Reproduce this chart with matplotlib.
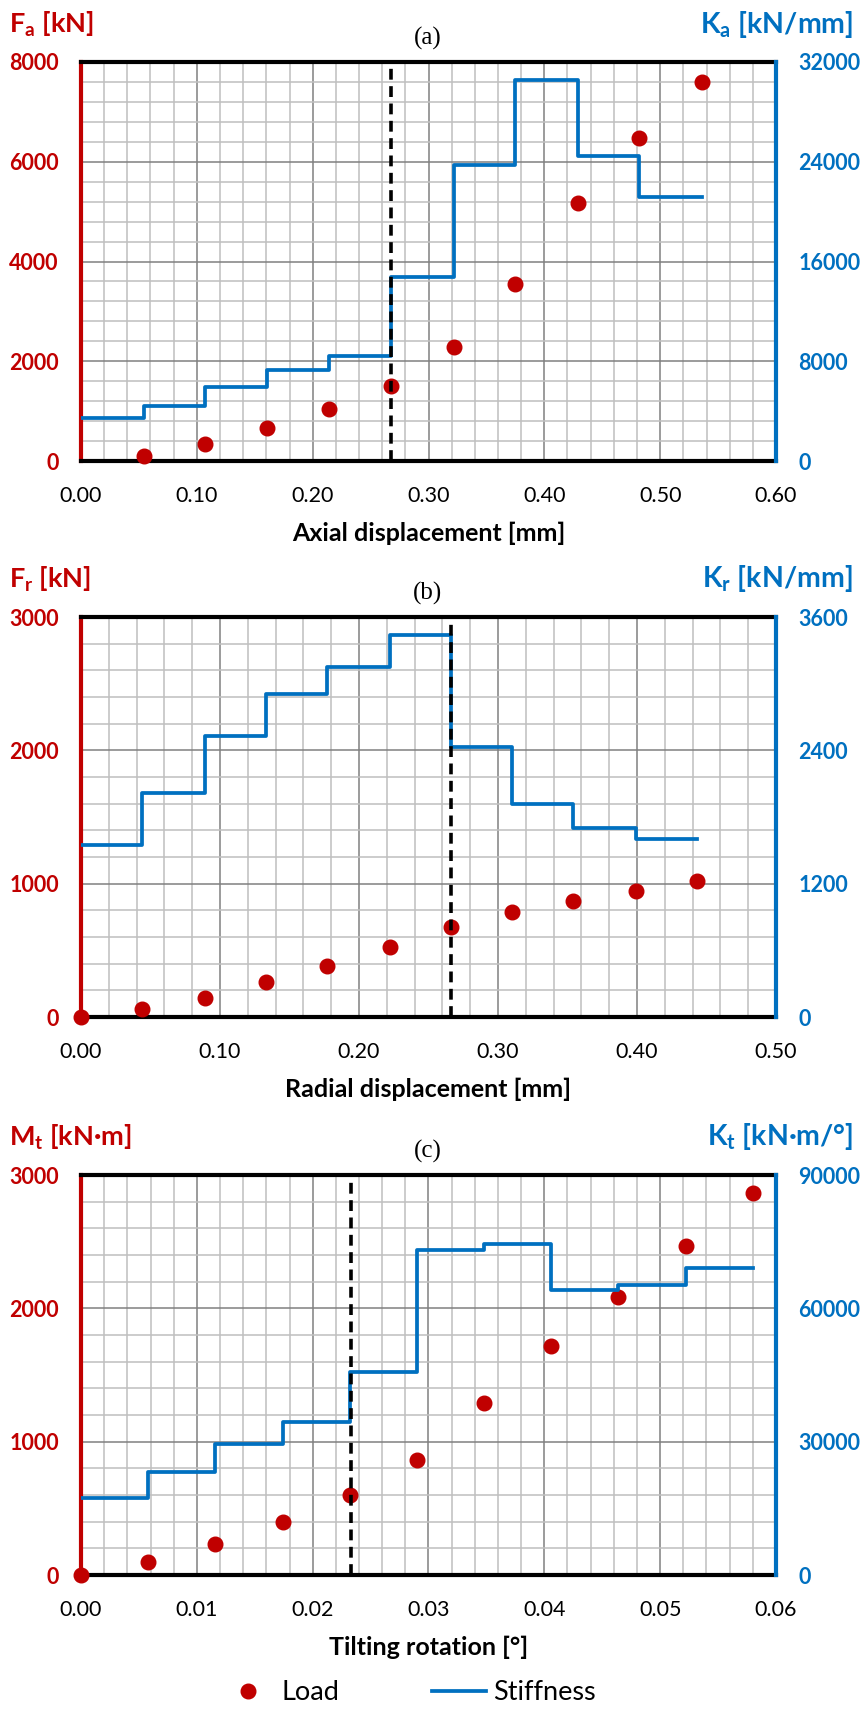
import numpy as np
import matplotlib
matplotlib.use("Agg")
import matplotlib.pyplot as plt
from matplotlib.ticker import MultipleLocator, FormatStrFormatter
from matplotlib.lines import Line2D

plt.rcParams['font.family'] = ['Lato', 'DejaVu Sans']
plt.rcParams['mathtext.fontset'] = 'custom'
plt.rcParams['mathtext.rm'] = 'Lato'
plt.rcParams['mathtext.bf'] = 'Lato:bold'
plt.rcParams['mathtext.it'] = 'Lato:italic'

RED = '#C00000'
BLUE = '#0070C0'

# (a) axial
axial_disp = [0.054, 0.107, 0.161, 0.214, 0.268, 0.322, 0.375, 0.429, 0.482, 0.536]
axial_load = [110, 340, 660, 1050, 1500, 2290, 3550, 5180, 6480, 7600]
axial_stiff = [3420, 4410, 5960, 7270, 8450, 14780, 23740, 30560, 24460, 21200]
axial_limit = 0.268

# (b) radial
radial_disp = [0, 0.044, 0.089, 0.133, 0.177, 0.222, 0.266, 0.310, 0.354, 0.399, 0.443]
radial_load = [0, 58, 146, 259, 386, 526, 676, 789, 871, 947, 1019]
radial_stiff = [1548, 2014, 2525, 2907, 3147, 3442, 2426, 1918, 1704, 1600]
radial_limit = 0.266

# (c) tilting
tilt_rot = [0, 0.0058, 0.0116, 0.0174, 0.0232, 0.029, 0.0348, 0.0406, 0.0464, 0.0522, 0.058]
tilt_moment = [0, 95, 230, 400, 600, 862, 1287, 1719, 2087, 2466, 2866]
tilt_stiff = [17240, 23230, 29380, 34400, 45640, 73230, 74420, 64080, 65200, 69180]
tilt_limit = 0.0233

W, H = 862, 1709
fig = plt.figure(figsize=(W / 100, H / 100), dpi=100)


def px(x, y):
    return x / W, 1 - y / H


def make_panel(top, bottom, xs_load, loads, edges, stiff, limit,
               xmax, xmaj, ymax, ymaj, kmax, kmaj,
               left_lab, right_lab, tag, xlab, xfmt):
    left, right = 81, 776
    ax = fig.add_axes([left / W, 1 - bottom / H, (right - left) / W, (bottom - top) / H])
    ax2 = ax.twinx()

    ax.set_xlim(0, xmax)
    ax.set_ylim(0, ymax)
    ax2.set_ylim(0, kmax)
    ax.xaxis.set_major_locator(MultipleLocator(xmaj))
    ax.xaxis.set_minor_locator(MultipleLocator(xmaj / 5))
    ax.yaxis.set_major_locator(MultipleLocator(ymaj))
    ax.yaxis.set_minor_locator(MultipleLocator(ymaj / 5))
    ax2.yaxis.set_major_locator(MultipleLocator(kmaj))
    ax.xaxis.set_major_formatter(FormatStrFormatter(xfmt))

    ax.grid(which='minor', color='#BFBFBF', lw=1.1)
    ax.grid(which='major', color='#808080', lw=1.1)
    ax.set_axisbelow(True)

    ax.tick_params(which='both', length=0)
    ax2.tick_params(which='both', length=0)
    ax.tick_params(axis='x', labelsize=15.5, pad=18)
    ax.tick_params(axis='y', labelsize=15.5, labelcolor=RED, pad=16)
    ax2.tick_params(axis='y', labelsize=15.5, labelcolor=BLUE, pad=16)
    for t in ax.get_yticklabels():
        t.set_fontweight('bold')
    for t in ax2.get_yticklabels():
        t.set_fontweight('bold')

    for sp in ('top', 'bottom'):
        ax.spines[sp].set_color('black')
        ax.spines[sp].set_linewidth(3)
    ax.spines['left'].set_color(RED)
    ax.spines['left'].set_linewidth(3)
    ax.spines['right'].set_visible(False)
    ax2.spines['right'].set_color(BLUE)
    ax2.spines['right'].set_linewidth(3)
    for sp in ('top', 'bottom', 'left'):
        ax2.spines[sp].set_visible(False)

    ax.plot(xs_load, loads, 'o', color=RED, ms=10.5, clip_on=False, zorder=3)
    ax2.step(edges, stiff + [stiff[-1]], where='post', color=BLUE, lw=2.7, zorder=3)
    ax2.axvline(limit, color='black', lw=2.6, ls=(0, (3, 1.8)), zorder=4)

    ax.set_xlabel(xlab, fontsize=18, fontweight='bold', labelpad=11)

    fig.text(*px(9, top - 38), left_lab, color=RED, fontsize=19.5, fontweight='bold',
             ha='left', va='center')
    fig.text(*px(853, top - 38), right_lab, color=BLUE, fontsize=20.5, fontweight='bold',
             ha='right', va='center')
    fig.text(*px(428, top - 24), tag, fontsize=18, family='Liberation Serif',
             ha='center', va='center')
    return ax, ax2


make_panel(62, 461, axial_disp, axial_load, [0] + axial_disp, axial_stiff, axial_limit,
           0.6, 0.1, 8000, 2000, 32000, 8000,
           r'$\mathbf{F_a}$ [kN]', r'$\mathbf{K_a}$ [kN/mm]', '(a)',
           'Axial displacement [mm]', '%.2f')

make_panel(617, 1017, radial_disp, radial_load, radial_disp, radial_stiff, radial_limit,
           0.5, 0.1, 3000, 1000, 3600, 1200,
           r'$\mathbf{F_r}$ [kN]', r'$\mathbf{K_r}$ [kN/mm]', '(b)',
           'Radial displacement [mm]', '%.2f')

make_panel(1175, 1575, tilt_rot, tilt_moment, tilt_rot, tilt_stiff, tilt_limit,
           0.06, 0.01, 3000, 1000, 90000, 30000,
           r'$\mathbf{M_t}$ [kN·m]', r'$\mathbf{K_t}$ [kN·m/°]', '(c)',
           'Tilting rotation [°]', '%.2f')

handles = [Line2D([], [], ls='none', marker='o', color=RED, ms=10.5, label='Load'),
           Line2D([], [], color=BLUE, lw=2.7, label='Stiffness')]
fig.legend(handles=handles, loc='center', bbox_to_anchor=px(408, 1693), ncol=2,
           frameon=False, fontsize=19.5, columnspacing=3.4, handlelength=2.0,
           handletextpad=0.25)

fig.savefig('out.png', dpi=100)
